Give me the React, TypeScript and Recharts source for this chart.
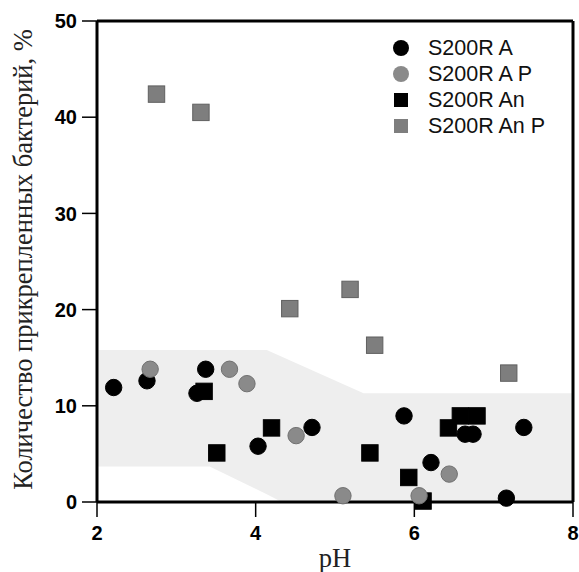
import { ComposedChart, Area, Scatter, XAxis, YAxis, ReferenceLine } from 'recharts';

// pH / процент прикрепленных бактерий
const s200rA = [
    { ph: 2.21, val: 11.9 }, { ph: 2.63, val: 12.6 }, { ph: 3.26, val: 11.3 }, { ph: 3.37, val: 13.8 },
    { ph: 4.03, val: 5.8 }, { ph: 4.71, val: 7.75 }, { ph: 5.87, val: 8.95 }, { ph: 6.21, val: 4.1 },
    { ph: 6.64, val: 7.05 }, { ph: 6.74, val: 7.05 }, { ph: 7.16, val: 0.4 }, { ph: 7.38, val: 7.75 },
];
const s200rAP = [
    { ph: 2.67, val: 13.8 }, { ph: 3.67, val: 13.8 }, { ph: 3.89, val: 12.3 }, { ph: 4.51, val: 6.9 },
    { ph: 5.10, val: 0.65 }, { ph: 6.06, val: 0.65 }, { ph: 6.44, val: 2.9 },
];
const s200rAn = [
    { ph: 3.35, val: 11.5 }, { ph: 3.51, val: 5.1 }, { ph: 4.20, val: 7.7 }, { ph: 5.44, val: 5.1 },
    { ph: 5.93, val: 2.55 }, { ph: 6.11, val: 0.1 }, { ph: 6.43, val: 7.7 }, { ph: 6.58, val: 8.95 },
    { ph: 6.79, val: 8.95 },
];
const s200rAnP = [
    { ph: 2.75, val: 42.4 }, { ph: 3.31, val: 40.5 }, { ph: 4.43, val: 20.1 }, { ph: 5.19, val: 22.1 },
    { ph: 5.50, val: 16.3 }, { ph: 7.19, val: 13.4 },
];

// серая область (нижняя и верхняя граница)
const bandPh = [2, 3.42, 4.14, 4.33, 5.36, 8];
const bandLow = [3.7, 3.7, 0.8, 0, 0, 0];
const bandHigh = [15.8, 15.8, 15.8, 15.1, 11.3, 11.3];

const xTicks = [2, 4, 6, 8];
const yTicks = [0, 10, 20, 30, 40, 50];

const bandData = bandPh.map((ph, i) => ({ ph, band: [bandLow[i], bandHigh[i]] }));

const GRAY_CIRCLE = '#8a8a8a';
const GRAY_SQUARE = '#7e7e7e';

const LEGEND = [
    { name: 'S200R A', shape: 'circle', color: '#000' },
    { name: 'S200R A P', shape: 'circle', color: GRAY_CIRCLE },
    { name: 'S200R An', shape: 'square', color: '#000' },
    { name: 'S200R An P', shape: 'square', color: GRAY_SQUARE },
];

const dot = (color: string, stroke: string) => (p: any) =>
    <circle cx={p.cx} cy={p.cy} r={8.2} fill={color} stroke={stroke} strokeWidth={1} />;
const box = (color: string, stroke: string) => (p: any) =>
    <rect x={p.cx - 8.2} y={p.cy - 8.2} width={16.4} height={16.4} fill={color} stroke={stroke} strokeWidth={1} />;

const tickStyle = { fontFamily: '"Liberation Sans", Arial, sans-serif', fontSize: 20, fontWeight: 700, fill: '#000' };
const serif = { fontFamily: '"Liberation Serif", "Times New Roman", serif', fontSize: 26.5, fill: '#222' };

// легенда поверх графика (Legend из recharts отнимает высоту)
function LegendBox() {
    return (
        <div style={{ position: 'absolute', left: 390, top: 35, fontFamily: '"Liberation Sans", Arial, sans-serif', fontSize: 21.5, color: '#111' }}>
            {LEGEND.map(item => (
                <div key={item.name} style={{ display: 'flex', alignItems: 'center', height: 26 }}>
                    <svg width={22} height={22}>
                        {item.shape === 'circle'
                            ? <circle cx={11} cy={11} r={8} fill={item.color} />
                            : <rect x={4} y={4} width={14} height={14} fill={item.color} />}
                    </svg>
                    <span style={{ marginLeft: 16, whiteSpace: 'nowrap' }}>{item.name}</span>
                </div>
            ))}
        </div>
    );
}

export default function App() {
    return (
        <div style={{ position: 'absolute', left: 0, top: 0, width: 579, height: 572 }}>
            <ComposedChart width={579} height={572} data={bandData} margin={{ top: 21, right: 6, bottom: 0, left: 0 }}>
                <XAxis
                    type="number"
                    dataKey="ph"
                    domain={[2, 8]}
                    ticks={xTicks}
                    height={70}
                    tick={tickStyle}
                    tickSize={15}
                    tickMargin={9}
                    axisLine={{ stroke: '#000', strokeWidth: 3 }}
                    tickLine={{ stroke: '#000', strokeWidth: 1.5 }}
                    label={{ value: 'pH', position: 'insideBottom', offset: 5, style: serif }}
                />
                <YAxis
                    type="number"
                    domain={[0, 50]}
                    ticks={yTicks}
                    width={97}
                    tick={tickStyle}
                    tickSize={15}
                    tickMargin={5}
                    axisLine={{ stroke: '#000', strokeWidth: 3 }}
                    tickLine={{ stroke: '#000', strokeWidth: 1.5 }}
                    label={{ value: 'Количество прикрепленных бактерий, %', angle: -90, position: 'center', dx: -26, dy: -2, style: serif }}
                />
                <Area type="linear" dataKey="band" fill="#eeeeee" fillOpacity={1} stroke="none" isAnimationActive={false} />
                <ReferenceLine y={50} stroke="#000" strokeWidth={3} />
                <ReferenceLine x={8} stroke="#000" strokeWidth={3} />
                <Scatter name="S200R A" data={s200rA} dataKey="val" shape={dot('#000', '#000')} isAnimationActive={false} />
                <Scatter name="S200R An" data={s200rAn} dataKey="val" shape={box('#000', '#000')} isAnimationActive={false} />
                <Scatter name="S200R A P" data={s200rAP} dataKey="val" shape={dot(GRAY_CIRCLE, '#707070')} isAnimationActive={false} />
                <Scatter name="S200R An P" data={s200rAnP} dataKey="val" shape={box(GRAY_SQUARE, '#606060')} isAnimationActive={false} />
            </ComposedChart>
            <LegendBox />
        </div>
    );
}
